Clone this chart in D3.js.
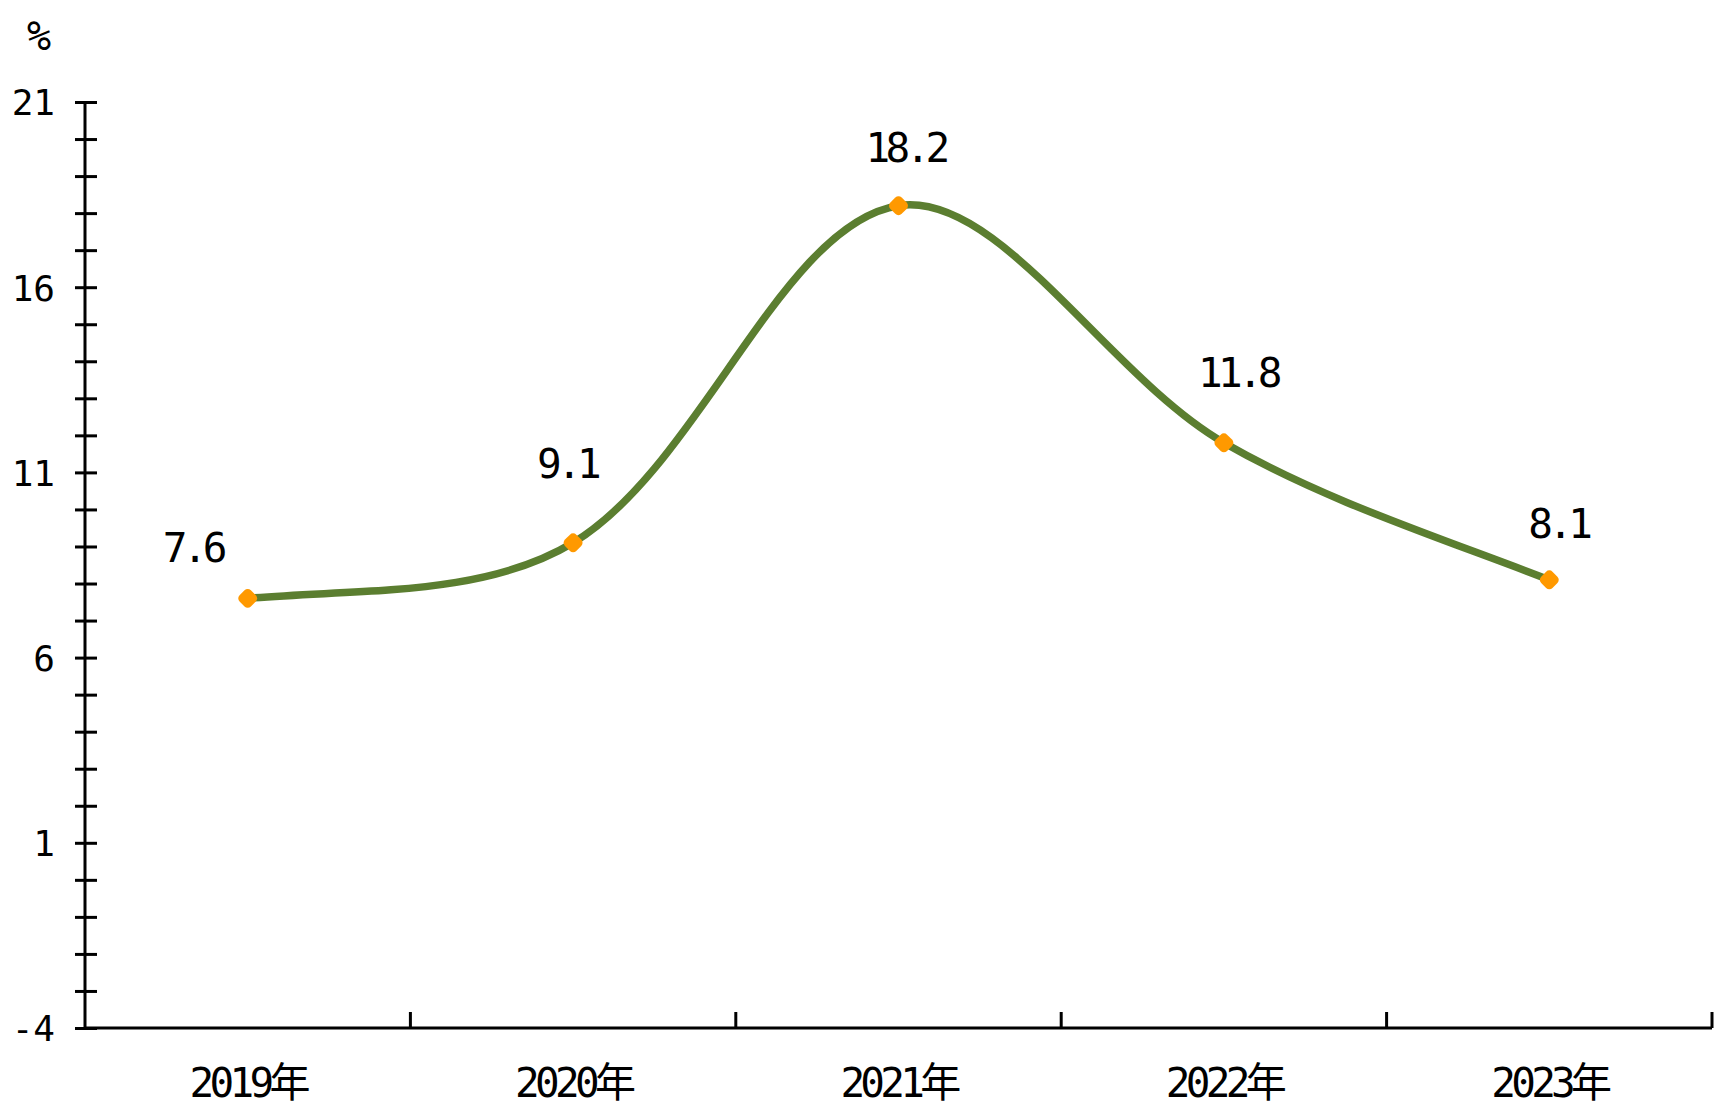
<!DOCTYPE html>
<html>
<head>
<meta charset="utf-8">
<script src="https://cdn.jsdelivr.net/npm/d3@7"></script>
<style>
  html, body { margin: 0; padding: 0; background: #fff; }
  svg { display: block; }
  .lbl { font-family: "DejaVu Sans Mono", "Noto Sans CJK SC", monospace; fill: #000; }
</style>
</head>
<body>
<svg id="chart"></svg>
<script>
// data
var years = ["2019年", "2020年", "2021年", "2022年", "2023年"];
var values = [7.6, 9.1, 18.2, 11.8, 8.1];
var yTickValues = d3.range(-4, 22);       // one tick per unit
var yLabelValues = [-4, 1, 6, 11, 16, 21]; // labelled ticks
var unitLabel = "%";

// layout (note: "top" is taken by window.top, so plot* names)
var width = 1728, height = 1109;
var plotL = 85, plotR = 1712, plotT = 102, plotB = 1028;
// label nudges (dx, dy) from each point, like the hand placed labels
var labelShift = [[-55, -36], [-6, -65], [7, -44], [14, -56], [9, -42]];

var svg = d3.select("#chart").attr("width", width).attr("height", height)
    .attr("viewBox", "0 0 " + width + " " + height);
svg.append("rect").attr("width", width).attr("height", height).attr("fill", "#fff");

var x = d3.scaleBand().domain(years).range([plotL, plotR]);
var y = d3.scaleLinear().domain([-4, 21]).range([plotB, plotT]);

// y axis: ticks cross the axis line
var yAxis = svg.append("g").attr("transform", "translate(" + plotL + ",0)")
    .call(d3.axisLeft(y).tickValues(yTickValues).tickSize(10)
      .tickFormat(function(d){ return yLabelValues.indexOf(d) >= 0 ? (d < 0 ? "-" + (-d) : d) : ""; }));
yAxis.select(".domain").remove();
yAxis.attr("font-family", null).attr("font-size", null);
yAxis.selectAll(".tick line").attr("x1", 12).attr("x2", -10)
    .attr("stroke", "#000").attr("stroke-width", 3);
yAxis.selectAll(".tick text").attr("class", "lbl").attr("x", -30).attr("dy", "0.36em")
    .style("font-size", "36px");
svg.append("line").attr("x1", plotL).attr("x2", plotL).attr("y1", plotT).attr("y2", plotB)
    .attr("stroke", "#000").attr("stroke-width", 3);

// x axis: ticks on band edges, pointing up
var xAxis = svg.append("g").attr("transform", "translate(0," + plotB + ")");
xAxis.append("line").attr("x1", plotL).attr("x2", plotR)
    .attr("stroke", "#000").attr("stroke-width", 3);
var edges = years.map(function(d){ return x(d) + x.bandwidth(); });
xAxis.selectAll(".xtick").data(edges).enter().append("line")
    .attr("x1", function(d){ return d; }).attr("x2", function(d){ return d; })
    .attr("y1", 0).attr("y2", -16)
    .attr("stroke", "#000").attr("stroke-width", 3);
xAxis.selectAll(".xlab").data(years).enter().append("text")
    .attr("class", "lbl")
    .attr("x", function(d){ return x(d) + x.bandwidth() / 2; })
    .attr("y", 69)
    .attr("text-anchor", "middle")
    .style("font-size", "41px").style("letter-spacing", "-4.7px")
    .text(function(d){ return d; });

svg.append("text").attr("class", "lbl").attr("x", 39).attr("y", 50)
    .attr("text-anchor", "middle").style("font-size", "40px").text(unitLabel);

// smoothed line, office style: tangent arms weighted by segment length,
// end arms half way between the chord and the neighbour's arm
function smoothPath(p) {
  var ctx = d3.path(), n = p.length, i;
  var dist = function(a, b){ return Math.hypot(b[0] - a[0], b[1] - a[1]); };
  var cin = [], cout = [];
  for (i = 1; i < n - 1; i++) {
    var tx = p[i + 1][0] - p[i - 1][0], ty = p[i + 1][1] - p[i - 1][1];
    var d0 = dist(p[i - 1], p[i]), d1 = dist(p[i], p[i + 1]);
    var a = d0 / (d0 + d1) / 3, b = d1 / (d0 + d1) / 3;
    cin[i] = [p[i][0] - tx * a, p[i][1] - ty * a];
    cout[i] = [p[i][0] + tx * b, p[i][1] + ty * b];
  }
  function endArm(e, nb, c) {
    return [e[0] + ((nb[0] - e[0]) / 3 + (c[0] - e[0]) / 2) / 2,
            e[1] + ((nb[1] - e[1]) / 3 + (c[1] - e[1]) / 2) / 2];
  }
  cout[0] = endArm(p[0], p[1], cin[1]);
  cin[n - 1] = endArm(p[n - 1], p[n - 2], cout[n - 2]);
  ctx.moveTo(p[0][0], p[0][1]);
  for (i = 0; i < n - 1; i++) {
    ctx.bezierCurveTo(cout[i][0], cout[i][1], cin[i + 1][0], cin[i + 1][1], p[i + 1][0], p[i + 1][1]);
  }
  return ctx.toString();
}

var pts = years.map(function(d, i){ return [x(d) + x.bandwidth() / 2, y(values[i])]; });
svg.append("path")
    .attr("fill", "none")
    .attr("stroke", "#5b7e30")
    .attr("stroke-width", 7.5)
    .attr("stroke-linejoin", "round")
    .attr("stroke-linecap", "round")
    .attr("d", smoothPath(pts));

// markers
svg.selectAll(".mk").data(pts).enter().append("rect")
    .attr("x", -8).attr("y", -8).attr("width", 16).attr("height", 16).attr("rx", 4.5)
    .attr("fill", "#ff9900")
    .attr("transform", function(d){ return "translate(" + d[0] + "," + d[1] + ") rotate(45)"; });

// data labels
svg.selectAll(".vl").data(values).enter().append("text")
    .attr("class", "lbl")
    .attr("x", function(d, i){ return pts[i][0] + labelShift[i][0]; })
    .attr("y", function(d, i){ return pts[i][1] + labelShift[i][1]; })
    .attr("text-anchor", "middle")
    .style("font-size", "41px").style("letter-spacing", "-4.7px")
    .text(function(d){ return d3.format(".1f")(d); });
</script>
</body>
</html>
